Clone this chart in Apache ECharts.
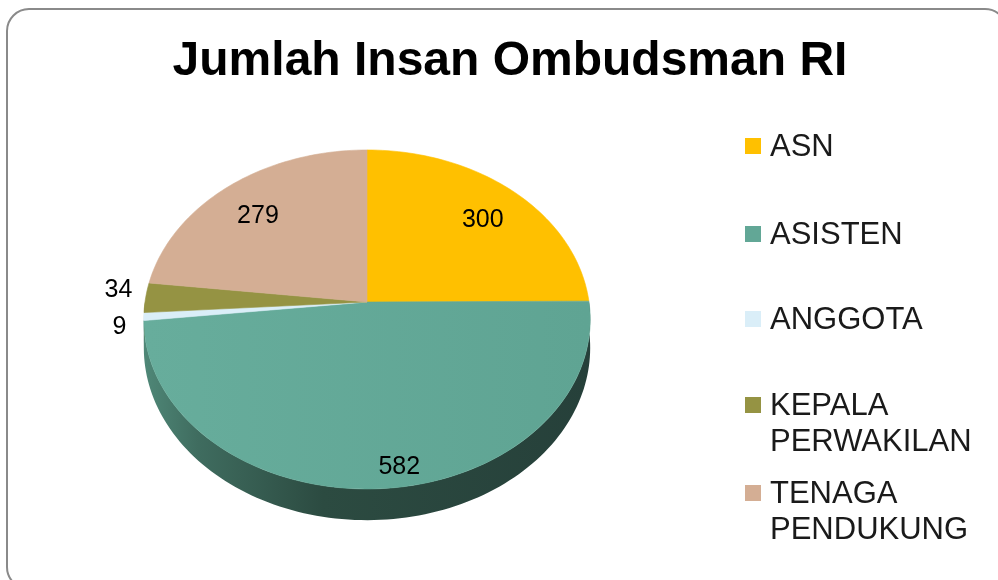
<!DOCTYPE html>
<html>
<head>
<meta charset="utf-8">
<script src="https://cdn.jsdelivr.net/npm/echarts@6/dist/echarts.min.js"></script>
<style>
html,body{margin:0;padding:0;background:#fff;}
#chart{width:998px;height:580px;}
</style>
</head>
<body>
<div id="chart"></div>
<script>
// ---- data ----
const titleText = 'Jumlah Insan Ombudsman RI';
const categories = ['ASN', 'ASISTEN', 'ANGGOTA', 'KEPALA PERWAKILAN', 'TENAGA PENDUKUNG'];
const values = [300, 582, 9, 34, 279];

// ---- styles / layout (not data) ----
const colors = ['#FFC000', '#62A796', '#DAEEF8', '#959343', '#D4AE94'];
const sideColors = ['#b38700', null, '#9fb3bd', '#6a692f', '#a08470'];
const FONT = '"Liberation Sans", Arial, sans-serif';
const CX = 367, CY = 302, R = 222, RY = 167.7, K = 0.103, DEPTH = 28;
// label placement: radius fraction, inside/outside, nudge
const labelRadius = [0.76, 0.88, 1.06, 1.06, 0.76];
const labelOutside = [false, false, true, true, false];
const labelNudge = [[3, 4], [20, 3], [-4, 10], [0, -7], [-3, 4]];

const total = values.reduce((a, b) => a + b, 0);

function proj(deg, r) {
  const t = deg * Math.PI / 180;
  const sx = r * Math.sin(t);
  const s = -r * Math.cos(t);
  const f = 1 / (1 - K * s);
  return [CX + R * sx * f, CY + RY * s * f, f];
}
function arc(a0, a1, r) {
  const n = Math.max(2, Math.ceil(Math.abs(a1 - a0) / 1.5));
  const pts = [];
  for (let j = 0; j <= n; j++) pts.push(proj(a0 + (a1 - a0) * j / n, r));
  return pts;
}

function renderItem(params, api) {
  const i = api.value(0);
  const v = api.value(1);
  let before = 0;
  for (let j = 0; j < i; j++) before += values[j];
  const a0 = before / total * 360;
  const a1 = (before + v) / total * 360;
  const children = [];

  // side (front-facing part)
  const lo = Math.max(a0, 90), hi = Math.min(a1, 270);
  if (hi > lo) {
    const top = arc(lo, hi, 1);
    const bottom = top.map(p => [p[0], p[1] + DEPTH * p[2]]).reverse();
    const pts = top.map(p => [p[0], p[1]]).concat(bottom);
    let fill = sideColors[i];
    if (i === 1) {
      fill = new echarts.graphic.LinearGradient(CX - R, 0, CX + R, 0, [
        { offset: 0, color: '#4f8777' },
        { offset: 0.12, color: '#3f6c5f' },
        { offset: 0.4, color: '#2c4b41' },
        { offset: 1, color: '#26403a' }
      ], true);
    }
    children.push({
      type: 'polygon', z2: 1,
      shape: { points: pts },
      style: { fill: fill, stroke: null }
    });
  }

  // top face
  const topPts = [[CX, CY]].concat(arc(a0, a1, 1).map(p => [p[0], p[1]]));
  let topFill = colors[i];
  if (i === 1) {
    topFill = new echarts.graphic.LinearGradient(CX - R, 0, CX + R, 0, [
      { offset: 0, color: '#67ad9c' },
      { offset: 1, color: '#5fa493' }
    ], true);
  }
  children.push({
    type: 'polygon', z2: 10,
    shape: { points: topPts },
    style: { fill: topFill, stroke: colors[i], lineWidth: 0.6 }
  });

  // label
  const mid = (a0 + a1) / 2;
  const lp = proj(mid, labelRadius[i]);
  children.push({
    type: 'text', z2: 20,
    x: lp[0] + labelNudge[i][0],
    y: lp[1] + labelNudge[i][1],
    style: {
      text: String(v),
      fill: '#000',
      font: '25px ' + FONT,
      textAlign: labelOutside[i] ? 'right' : 'center',
      textVerticalAlign: 'middle'
    }
  });
  return { type: 'group', children: children };
}

// legend built from categories
const legendIconY = [146, 234, 319, 405, 493];
const legendGraphics = [];
categories.forEach((name, i) => {
  const lines = name.split(' ');
  legendGraphics.push({
    type: 'rect', left: 745, top: legendIconY[i] - 8,
    shape: { width: 16, height: 16 },
    style: { fill: colors[i] }
  });
  lines.forEach((ln, k) => {
    legendGraphics.push({
      type: 'text', x: 770, y: legendIconY[i] + 1 + k * 36,
      style: {
        text: ln, fill: '#1a1a1a', font: '31px ' + FONT,
        textAlign: 'left', textVerticalAlign: 'middle'
      }
    });
  });
});

const chart = echarts.init(document.getElementById('chart'), null, { renderer: 'canvas' });
chart.setOption({
  animation: false,
  backgroundColor: '#ffffff',
  title: {
    text: titleText,
    left: 505, top: 33,
    textAlign: 'center',
    textStyle: { fontFamily: FONT, fontWeight: 'bold', fontSize: 48, color: '#000' }
  },
  graphic: [
    {
      type: 'rect', x: 7, y: 9, z: -10,
      shape: { width: 1000, height: 580, r: 22 },
      style: { fill: 'none', stroke: '#8a8a8a', lineWidth: 2 }
    }
  ].concat(legendGraphics),
  series: [{
    type: 'custom',
    coordinateSystem: 'none',
    data: values.map((v, i) => [i, v]),
    renderItem: renderItem
  }]
});
</script>
</body>
</html>
